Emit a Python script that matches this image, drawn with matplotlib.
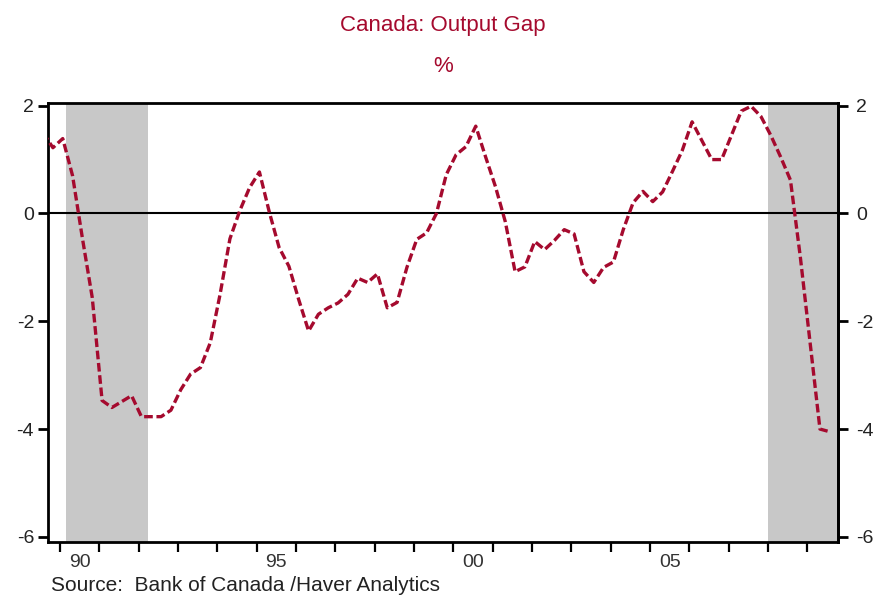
import matplotlib
matplotlib.use("Agg")
import matplotlib.pyplot as plt
import numpy as np

plt.rcParams["font.family"] = ["Liberation Sans", "DejaVu Sans"]
plt.rcParams["axes.unicode_minus"] = False

# quarterly output gap (%), 1989Q3 .. 2009Q3
start_year = 1989
start_quarter = 3
gap = [
    1.50, 1.22,
    1.39, 0.70, -0.46, -1.56,
    -3.47, -3.60, -3.49, -3.38,
    -3.77, -3.77, -3.77, -3.65,
    -3.27, -2.98, -2.86, -2.40,
    -1.50, -0.47, 0.05, 0.48,
    0.77, 0.03, -0.63, -0.98,
    -1.60, -2.18, -1.87, -1.75,
    -1.66, -1.50, -1.20, -1.28,
    -1.12, -1.75, -1.65, -1.00,
    -0.48, -0.36, 0.00, 0.72,
    1.09, 1.24, 1.62, 1.05,
    0.50, -0.15, -1.08, -0.99,
    -0.52, -0.67, -0.50, -0.30,
    -0.38, -1.08, -1.28, -1.00,
    -0.90, -0.30, 0.20, 0.41,
    0.22, 0.40, 0.78, 1.17,
    1.70, 1.35, 1.00, 1.00,
    1.45, 1.90, 1.99, 1.80,
    1.45, 1.05, 0.62, -0.80,
    -2.40, -4.00, -4.05,
]
recessions = [(1990.15, 1992.25), (2008.0, 2009.78)]
tick_labels = {1990: "90", 1995: "95", 2000: "00", 2005: "05"}
y_ticks = [-6, -4, -2, 0, 2]

red = "#a50a2e"
ink = "#222222"

x = start_year + (start_quarter - 1) / 4 + 0.07 + 0.25 * np.arange(len(gap))

fig = plt.figure(figsize=(8.79, 5.96), dpi=100)
ax = fig.add_axes([0.0546, 0.0911, 0.8988, 0.7361])

for a, b in recessions:
    ax.axvspan(a, b, color="#c8c8c8", lw=0, zorder=0)

ax.axhline(0, color="black", lw=1.5, zorder=1)
ax.plot(x, gap, color=red, lw=2.4, dashes=(2.6, 1.1), solid_capstyle="butt",
        zorder=3)

ax.set_xlim(1989.695, 2009.78)
ax.set_ylim(-6.09, 2.05)

for s in ax.spines.values():
    s.set_linewidth(2)

ax.set_yticks(y_ticks)
ax.tick_params(axis="y", direction="out", length=7, width=2,
               labelsize=14, labelcolor=ink, right=False, pad=3)

right = ax.secondary_yaxis("right")
right.set_yticks(y_ticks)
right.tick_params(direction="out", length=7, width=2, labelsize=14,
                  labelcolor=ink, pad=6)
right.spines["right"].set_linewidth(2)

ax.set_xticks(np.arange(1990, 2010))
ax.set_xticklabels([])
ax.tick_params(axis="x", which="major", direction="out", length=7, width=1.6)
ax.set_xticks([y + 0.5 for y in tick_labels], minor=True)
ax.set_xticklabels(list(tick_labels.values()), minor=True)
ax.tick_params(axis="x", which="minor", length=0, labelsize=14, pad=9,
               labelcolor="#333333")

fig.text(0.504, 0.958, "Canada: Output Gap", ha="center", va="center",
         fontsize=16, color=red)
fig.text(0.504, 0.888, "%", ha="center", va="center", fontsize=16, color=red)
fig.text(0.058, 0.018, "Source:  Bank of Canada /Haver Analytics",
         ha="left", va="center", fontsize=15, color=ink)

fig.savefig("out.png", dpi=100)
